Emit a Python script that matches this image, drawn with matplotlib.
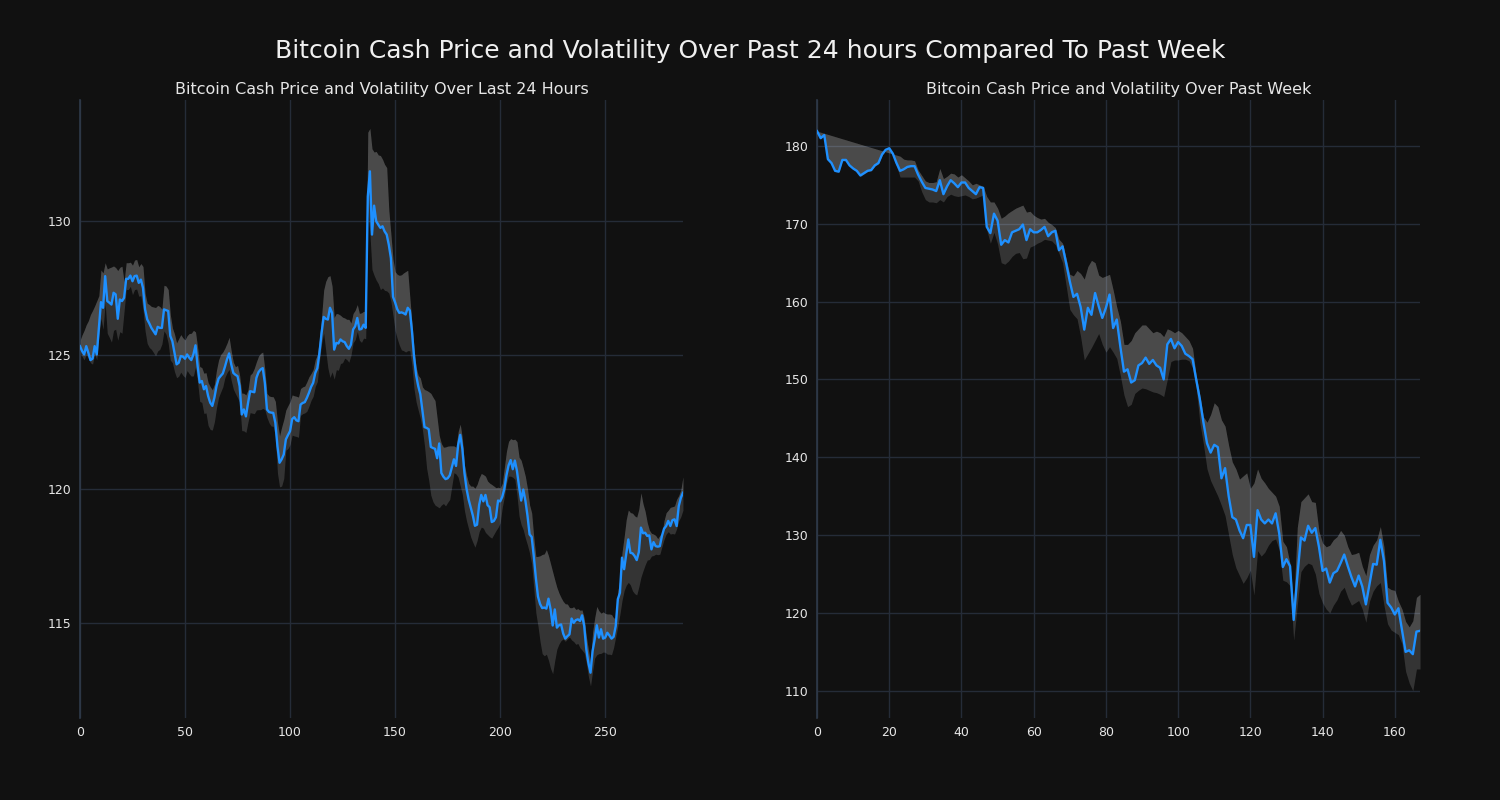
import matplotlib
matplotlib.use("Agg")
import matplotlib.pyplot as plt
import numpy as np

# ---------------- data: last 24 hours (5-minute steps) ----------------
day_price = [
    125.32, 125.14, 125.01, 125.32, 125.07, 124.80, 124.85, 125.32, 125.01, 126.0,
    126.96, 126.75, 127.93, 127.0, 126.94, 126.87, 127.31, 127.25, 126.34, 127.06,
    127.0, 127.12, 127.83, 127.83, 127.95, 127.74, 127.93, 127.95, 127.68, 127.80,
    127.49, 126.69, 126.32, 126.17, 126.0, 125.88, 125.76, 126.04, 126.0, 126.0,
    126.69, 126.66, 126.63, 125.7, 125.5, 125.07, 124.64, 124.70, 124.95, 124.93,
    124.85, 125.01, 124.89, 124.80, 125.01, 125.35, 124.58, 123.96, 124.02, 123.71,
    123.83, 123.46, 123.21, 123.09, 123.40, 123.83, 124.11, 124.21, 124.30, 124.55,
    124.83, 125.05, 124.64, 124.32, 124.25, 124.2, 123.83, 122.77, 122.96, 122.7,
    123.2, 123.64, 123.62, 123.6, 124.14, 124.35, 124.45, 124.5, 123.95, 122.96,
    122.86, 122.84, 122.83, 122.46, 121.59, 120.97, 121.1, 121.28, 121.84, 122.0,
    122.15, 122.6, 122.67, 122.55, 122.52, 123.14, 123.2, 123.23, 123.39, 123.58,
    123.8, 123.95, 124.32, 124.5, 125.07, 125.81, 126.41, 126.34, 126.31, 126.75,
    126.56, 125.19, 125.44, 125.42, 125.57, 125.5, 125.47, 125.32, 125.22, 125.38,
    125.94, 126.06, 126.37, 125.94, 125.96, 126.12, 126.0, 130.9, 131.84, 129.48,
    130.56, 129.98, 129.85, 129.73, 129.79, 129.6, 129.48, 129.1, 128.6, 127.16,
    126.95, 126.7, 126.56, 126.58, 126.55, 126.5, 126.75, 126.65, 125.9, 124.93,
    124.24, 123.83, 123.53, 122.9, 122.3, 122.27, 122.22, 121.56, 121.52, 121.49,
    121.14, 121.69, 120.59, 120.45, 120.36, 120.39, 120.5, 120.8, 121.1, 120.85,
    121.63, 122.01, 121.49, 120.59, 120.0, 119.6, 119.3, 119.0, 118.62, 118.66,
    119.4, 119.77, 119.53, 119.77, 119.39, 119.31, 118.76, 118.8, 118.94, 119.56,
    119.53, 119.7, 120.0, 120.5, 120.87, 121.07, 120.73, 121.05, 120.66, 120.08,
    119.56, 119.97, 119.56, 119.0, 118.3, 118.2, 117.49, 116.67, 115.98, 115.7,
    115.55, 115.57, 115.53, 115.9, 115.5, 114.9, 115.5, 114.82, 114.91, 114.94,
    114.6, 114.41, 114.5, 114.57, 115.16, 115.0, 115.1, 115.13, 115.07, 115.28,
    114.88, 114.01, 113.5, 113.14, 113.95, 114.39, 114.91, 114.45, 114.76, 114.41,
    114.45, 114.63, 114.53, 114.41, 114.48, 114.88, 115.88, 116.12, 117.43, 117.0,
    117.55, 118.11, 117.61, 117.59, 117.49, 117.34, 117.64, 118.55, 118.34, 118.36,
    118.24, 118.26, 117.74, 118.01, 117.86, 117.84, 117.86, 118.24, 118.51, 118.61,
    118.8, 118.61, 118.83, 118.86, 118.61, 119.35, 119.66, 119.85,
]
# band extent above / below the price
day_band_up = [
    0.2, 0.6, 0.9, 0.8, 1.2, 1.7, 1.8, 1.5, 2.0, 1.2,
    1.2, 1.3, 0.5, 1.2, 1.3, 1.4, 1.0, 1.0, 1.8, 1.2,
    1.3, 0.6, 0.6, 0.6, 0.5, 0.6, 0.6, 0.6, 0.6, 0.6,
    0.8, 0.6, 0.6, 0.7, 0.8, 0.9, 1.0, 0.8, 0.8, 0.7,
    0.9, 0.9, 0.8, 0.8, 0.5, 0.7, 0.8, 0.9, 0.8, 0.7,
    0.7, 0.7, 0.9, 1.0, 0.9, 0.5, 0.7, 0.6, 0.5, 0.6,
    0.5, 0.5, 0.6, 0.6, 0.5, 0.6, 0.7, 0.8, 0.8, 0.7,
    0.6, 0.6, 0.5, 0.4, 0.3, 0.4, 0.4, 0.8, 0.6, 0.8,
    0.5, 0.6, 0.7, 0.9, 0.6, 0.6, 0.6, 0.6, 0.5, 0.6,
    0.6, 0.6, 0.6, 0.8, 0.9, 1.0, 1.2, 1.3, 1.1, 1.1,
    1.1, 0.9, 0.8, 0.9, 0.9, 0.6, 0.6, 0.6, 0.6, 0.6,
    0.5, 0.5, 0.5, 0.5, 0.5, 0.6, 1.0, 1.4, 1.6, 1.2,
    1.0, 1.2, 1.1, 1.1, 0.9, 0.9, 0.9, 1.0, 1.1, 0.8,
    0.6, 0.6, 0.5, 0.6, 0.6, 0.5, 0.6, 2.4, 1.6, 3.2,
    2.0, 2.6, 2.6, 2.7, 2.5, 2.5, 2.5, 1.3, 0.9, 1.4,
    1.15, 1.3, 1.4, 1.4, 1.5, 1.6, 1.4, 0.5, 0.3, 0.3,
    0.3, 0.4, 0.6, 0.9, 1.4, 1.4, 1.4, 2.0, 1.9, 1.8,
    1.5, 0.3, 1.1, 1.1, 1.2, 1.2, 1.1, 0.8, 0.5, 0.7,
    0.5, 0.4, 0.4, 0.3, 0.5, 0.6, 0.8, 1.1, 1.4, 1.5,
    1.0, 0.8, 1.0, 0.7, 0.9, 0.9, 1.4, 1.3, 1.1, 0.5,
    0.5, 0.5, 0.8, 0.9, 0.9, 0.8, 1.1, 0.8, 1.1, 1.1,
    1.5, 0.8, 0.9, 1.0, 1.1, 0.9, 0.7, 0.8, 1.5, 1.8,
    2.0, 2.0, 2.2, 1.6, 1.7, 2.0, 1.1, 1.5, 1.2, 1.0,
    1.2, 1.3, 1.2, 1.0, 0.4, 0.6, 0.4, 0.4, 0.4, 0.2,
    0.3, 0.5, 0.5, 0.4, 0.7, 0.8, 0.7, 1.0, 0.6, 1.0,
    0.9, 0.7, 0.8, 0.9, 0.7, 0.3, 0.3, 0.5, 0.2, 1.2,
    1.3, 1.1, 1.5, 1.5, 1.5, 1.6, 1.6, 1.3, 1.1, 0.8,
    0.5, 0.2, 0.6, 0.3, 0.4, 0.3, 0.4, 0.1, 0.3, 0.5,
    0.4, 0.7, 0.5, 0.5, 1.0, 0.4, 0.3, 0.6,
]
day_band_down = [
    0.2, 0.2, 0.2, 0.3, 0.2, 0.1, 0.2, 0.3, 0.2, 0.3,
    0.6, 0.8, 1.0, 1.2, 1.3, 1.4, 1.4, 1.3, 0.8, 1.2,
    1.2, 0.5, 0.4, 0.4, 0.4, 0.5, 0.5, 0.5, 0.5, 0.6,
    0.8, 0.8, 0.9, 0.9, 0.8, 0.8, 0.8, 0.9, 0.8, 0.6,
    0.8, 0.9, 1.2, 0.9, 0.8, 0.7, 0.5, 0.5, 0.6, 0.7,
    0.7, 0.6, 0.6, 0.6, 0.8, 0.8, 0.6, 0.7, 0.8, 0.9,
    1.0, 1.1, 1.0, 0.9, 0.9, 0.8, 0.7, 0.6, 0.5, 0.4,
    0.5, 0.6, 0.6, 0.6, 0.7, 0.8, 0.6, 0.6, 0.8, 0.6,
    0.7, 0.8, 0.8, 0.8, 1.2, 1.4, 1.5, 1.5, 1.0, 0.3,
    0.4, 0.5, 0.5, 0.5, 1.0, 0.9, 1.0, 0.9, 0.4, 0.5,
    0.5, 0.6, 0.7, 0.6, 0.6, 0.4, 0.4, 0.4, 0.5, 0.5,
    0.5, 0.5, 0.5, 0.5, 0.3, 0.4, 0.6, 1.2, 1.8, 2.6,
    2.2, 1.1, 1.0, 1.0, 0.9, 0.8, 0.6, 0.5, 0.5, 0.4,
    0.5, 0.5, 0.5, 0.4, 0.5, 0.5, 0.4, 0.5, 2.3, 1.3,
    2.6, 2.2, 2.2, 2.3, 2.3, 2.2, 2.1, 1.8, 1.6, 0.7,
    1.05, 1.1, 1.2, 1.4, 1.4, 1.4, 1.6, 1.5, 1.3, 1.2,
    1.0, 0.9, 0.9, 0.7, 0.7, 1.5, 1.9, 1.8, 2.0, 2.1,
    1.8, 2.4, 1.2, 1.0, 1.0, 0.9, 0.9, 0.7, 0.5, 0.3,
    1.2, 1.9, 1.7, 1.4, 1.2, 1.1, 1.1, 1.0, 0.8, 0.6,
    1.0, 1.2, 1.0, 1.4, 1.1, 1.1, 0.6, 0.5, 0.5, 1.0,
    0.8, 0.4, 0.3, 0.3, 0.4, 0.6, 0.3, 0.7, 0.9, 1.1,
    0.9, 1.5, 1.4, 1.1, 0.7, 1.0, 1.2, 1.3, 1.1, 1.4,
    1.7, 1.8, 1.7, 2.3, 2.2, 1.8, 1.9, 0.8, 0.7, 0.6,
    0.2, 0.1, 0.1, 0.1, 0.8, 0.7, 0.9, 0.9, 1.0, 1.3,
    1.0, 0.5, 0.5, 0.5, 0.75, 0.7, 1.1, 0.6, 0.9, 0.5,
    0.55, 0.8, 0.7, 0.6, 0.4, 0.4, 1.0, 0.8, 1.6, 0.8,
    1.15, 1.6, 1.2, 1.4, 1.4, 1.3, 1.3, 1.85, 1.4, 1.2,
    0.9, 0.9, 0.25, 0.5, 0.3, 0.3, 0.3, 0.4, 0.4, 0.3,
    0.4, 0.3, 0.5, 0.55, 0.1, 0.55, 0.7, 0.65,
]

# ---------------- data: past week (hourly) ----------------
week_price = [
    181.9, 181.0, 181.4, 178.3, 177.8, 176.8, 176.7, 178.2, 178.2, 177.5,
    177.1, 176.8, 176.2, 176.5, 176.8, 176.9, 177.5, 177.8, 178.9, 179.5,
    179.7, 179.0, 177.8, 176.8, 177.0, 177.3, 177.4, 177.4, 176.3, 175.4,
    174.6, 174.5, 174.4, 174.2, 175.6, 173.8, 174.8, 175.6, 175.2, 174.7,
    175.3, 175.3, 174.6, 174.2, 173.8, 174.7, 174.6, 169.6, 168.8, 171.3,
    170.4, 167.3, 167.9, 167.6, 168.9, 169.1, 169.3, 169.9, 167.9, 169.3,
    168.9, 168.9, 169.2, 169.6, 168.4, 168.9, 169.1, 166.6, 167.1, 164.9,
    162.6, 160.6, 161.0, 159.3, 156.4, 159.2, 158.3, 161.1, 159.4, 157.9,
    159.2, 160.9, 156.6, 157.7, 154.2, 151.0, 151.3, 149.6, 149.9, 151.8,
    152.1, 152.8, 152.0, 152.5, 151.8, 151.5, 150.0, 154.5, 155.2, 154.0,
    154.8, 154.3, 153.3, 153.0, 152.6, 150.0, 147.5, 144.5, 141.8, 140.6,
    141.6, 141.3, 137.3, 138.6, 135.0, 132.3, 132.0, 130.6, 129.6, 131.3,
    131.3, 127.2, 133.2, 132.0, 131.5, 132.0, 131.5, 132.8, 130.2, 125.9,
    126.9, 126.0, 119.1, 124.6, 129.7, 129.3, 131.2, 130.3, 130.9, 128.5,
    125.4, 125.7, 123.9, 125.1, 125.4, 126.4, 127.5, 126.0, 124.6, 123.4,
    124.8, 123.4, 121.1, 123.7, 126.3, 126.2, 129.4, 126.7, 121.3, 120.7,
    119.8, 120.6, 117.8, 115.0, 115.2, 114.7, 117.6, 117.7,
]
week_band_up = [
    0.0, 0.76, 0.22, 3.18, 3.54, 4.4, 4.36, 2.72, 2.58, 3.14,
    3.4, 3.56, 4.02, 3.58, 3.14, 2.9, 2.16, 1.72, 0.48, -0.26,
    -0.6, -0.04, 1.02, 1.88, 1.3, 0.9, 0.8, 0.7, 0.6, 0.8,
    0.9, 0.8, 0.9, 1.2, 1.5, 2.0, 1.3, 0.9, 1.2, 1.3,
    1.0, 0.6, 0.9, 0.8, 1.4, 0.3, 0.2, 3.9, 4.0, 1.5,
    1.6, 3.4, 3.1, 3.8, 2.8, 2.9, 2.9, 2.5, 3.6, 2.3,
    2.2, 1.9, 1.4, 1.1, 1.8, 1.0, 0.4, 1.4, 0.4, 0.6,
    0.9, 2.7, 3.0, 4.3, 6.5, 5.3, 7.0, 3.9, 4.0, 5.2,
    4.1, 2.6, 4.9, 1.6, 3.3, 3.5, 3.2, 5.4, 6.1, 4.7,
    4.9, 4.2, 4.5, 3.5, 4.4, 4.5, 5.5, 2.0, 1.1, 2.0,
    1.5, 1.7, 2.2, 2.0, 1.4, 0.5, 0.5, 0.7, 2.7, 4.9,
    5.4, 5.2, 7.5, 5.4, 6.5, 7.1, 6.5, 6.6, 8.0, 6.7,
    4.7, 9.5, 5.3, 5.3, 5.2, 4.0, 4.0, 2.2, 3.5, 3.3,
    1.6, 0.3, 1.9, 6.4, 4.6, 5.5, 4.1, 4.0, 3.3, 2.0,
    3.6, 2.8, 4.8, 4.3, 4.4, 4.2, 2.5, 2.5, 2.9, 4.2,
    3.0, 2.6, 3.7, 3.8, 2.4, 3.2, 1.7, 1.8, 2.0, 2.3,
    3.1, 0.9, 2.7, 3.9, 3.0, 4.3, 4.4, 4.7,
]
week_band_down = [
    0.1, 0.1, 0.1, 0.1, 0.1, 0.1, 0.1, 0.1, 0.1, 0.1,
    0.1, 0.1, 0.1, 0.1, 0.1, 0.1, 0.1, 0.1, 0.1, 0.1,
    0.1, 0.1, 0.4, 0.8, 1.0, 1.3, 1.4, 1.4, 0.8, 1.3,
    1.5, 1.7, 1.6, 1.5, 2.5, 1.0, 1.3, 1.8, 1.6, 1.2,
    1.7, 1.6, 1.1, 1.0, 0.5, 1.2, 0.9, 0.4, 1.3, 2.4,
    3.0, 2.3, 3.1, 2.4, 3.1, 2.9, 3.0, 4.4, 2.3, 2.3,
    1.7, 1.4, 1.5, 1.6, 0.5, 1.1, 1.8, 0.4, 2.1, 2.9,
    3.6, 2.3, 3.2, 3.8, 3.9, 5.9, 4.2, 6.1, 3.5, 3.4,
    5.7, 6.7, 3.1, 5.0, 3.7, 3.0, 4.8, 2.8, 1.7, 3.2,
    3.2, 4.0, 3.4, 4.1, 3.5, 3.4, 2.2, 4.5, 2.9, 1.5,
    2.3, 1.7, 0.7, 0.6, 1.1, 1.0, 3.0, 2.8, 3.3, 3.6,
    5.6, 6.3, 3.5, 6.1, 5.0, 4.8, 6.2, 5.8, 5.8, 6.8,
    5.8, 4.9, 5.2, 4.7, 3.7, 3.3, 2.2, 3.3, 2.1, 1.7,
    2.9, 2.5, 2.6, 3.6, 4.4, 3.3, 4.8, 4.1, 5.9, 6.0,
    4.1, 5.2, 3.9, 4.1, 3.7, 3.6, 4.2, 4.0, 3.6, 2.1,
    3.2, 2.9, 2.3, 2.2, 3.5, 2.7, 5.5, 5.7, 2.7, 2.9,
    2.3, 3.4, 1.8, 2.5, 4.2, 4.7, 4.8, 4.9,
]

day_xticks = [0, 50, 100, 150, 200, 250]
day_yticks = [115, 120, 125, 130]
week_xticks = [0, 20, 40, 60, 80, 100, 120, 140, 160]
week_yticks = [110, 120, 130, 140, 150, 160, 170, 180]

suptitle = "Bitcoin Cash Price and Volatility Over Past 24 hours Compared To Past Week"
day_title = "Bitcoin Cash Price and Volatility Over Last 24 Hours"
week_title = "Bitcoin Cash Price and Volatility Over Past Week"

# ---------------- styling ----------------
BG = "#111111"
GRID = "#252c38"
SPINE = "#2f3a4a"
LINE = "#1e90ff"
TXT = "#e6e6e6"

plt.rcParams["font.family"] = ["DejaVu Sans"]

fig = plt.figure(figsize=(15, 8), dpi=100, facecolor=BG)
ax1 = fig.add_axes([0.0533, 0.1025, 0.4020, 0.7725])
ax2 = fig.add_axes([0.5447, 0.1025, 0.4020, 0.7725])


def draw(ax, price, up, down, xticks, yticks, xlim, ylim, title):
    p = np.array(price, dtype=float)
    upper = p + np.array(up, dtype=float)
    lower = p - np.array(down, dtype=float)
    x = np.arange(len(p))
    ax.set_facecolor(BG)
    ax.fill_between(x, lower, upper, color="white", alpha=0.15, linewidth=0, zorder=2)
    ax.fill_between(x, p, upper, color="white", alpha=0.11, linewidth=0, zorder=2)
    ax.plot(x, p, color=LINE, linewidth=1.7, zorder=3)
    ax.set_xlim(*xlim)
    ax.set_ylim(*ylim)
    ax.set_xticks(xticks)
    ax.set_yticks(yticks)
    ax.grid(True, color=GRID, linewidth=1.0, zorder=0)
    ax.set_axisbelow(True)
    for side in ("top", "right", "bottom"):
        ax.spines[side].set_visible(False)
    ax.spines["left"].set_color(SPINE)
    ax.spines["left"].set_linewidth(1.2)
    ax.tick_params(colors=TXT, labelsize=9, length=0, pad=6)
    ax.set_title(title, color=TXT, fontsize=11.5, pad=4)


draw(ax1, day_price, day_band_up, day_band_down, day_xticks, day_yticks,
     (0, len(day_price) - 1), (111.45, 134.5), day_title)
draw(ax2, week_price, week_band_up, week_band_down, week_xticks, week_yticks,
     (0, len(week_price) - 1), (106.5, 185.9), week_title)

fig.suptitle(suptitle, color="#f0f0f0", fontsize=18, y=0.951)

fig.savefig("out.png", dpi=100, facecolor=BG)
